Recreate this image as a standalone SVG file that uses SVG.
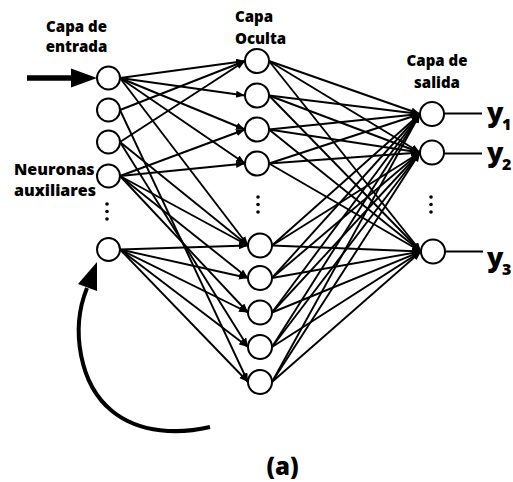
<svg xmlns="http://www.w3.org/2000/svg" width="513" height="482" viewBox="0 0 513 482">
<style>
  .n { fill: #fff; stroke: #000; stroke-width: 2; }
  .e { stroke: #000; stroke-width: 1.9; fill: none; marker-end: url(#ah); }
  .o { stroke: #000; stroke-width: 2; }
  .t { font-family: "Open Sans", "DejaVu Sans", sans-serif; font-weight: 800; fill: #000; }
  .d { fill: #000; }
</style>
<defs>
  <marker id="ah" markerUnits="userSpaceOnUse" markerWidth="10" markerHeight="8" refX="9" refY="3.5" orient="auto">
    <path d="M0,0 L9,3.5 L0,7 z" fill="#000"/>
  </marker>
</defs>
<rect width="513" height="482" fill="#fff"/>

<g id="connectors">
  <!-- input to hidden -->
  <line class="e" x1="120" y1="78" x2="245" y2="61"/>
  <line class="e" x1="120" y1="78" x2="245" y2="95.5"/>
  <line class="e" x1="120" y1="78" x2="245" y2="129.5"/>
  <line class="e" x1="120" y1="78" x2="245" y2="163.5"/>
  <line class="e" x1="120" y1="78" x2="248" y2="245.5"/>
  <line class="e" x1="120" y1="110" x2="245" y2="61"/>
  <line class="e" x1="120" y1="110" x2="248" y2="382"/>
  <line class="e" x1="120" y1="142" x2="245" y2="61"/>
  <line class="e" x1="120" y1="142" x2="248" y2="245.5"/>
  <line class="e" x1="120" y1="142" x2="248" y2="347"/>
  <line class="e" x1="120" y1="176" x2="245" y2="129.5"/>
  <line class="e" x1="120" y1="176" x2="245" y2="163.5"/>
  <line class="e" x1="120" y1="176" x2="248" y2="245.5"/>
  <line class="e" x1="120" y1="176" x2="248" y2="278"/>
  <line class="e" x1="120" y1="176" x2="248" y2="312.5"/>
  <line class="e" x1="120" y1="249.5" x2="248" y2="245.5"/>
  <line class="e" x1="120" y1="249.5" x2="248" y2="278"/>
  <line class="e" x1="120" y1="249.5" x2="248" y2="312.5"/>
  <line class="e" x1="120" y1="249.5" x2="248" y2="347"/>
  <line class="e" x1="120" y1="249.5" x2="248" y2="382"/>
  <!-- hidden to output -->
  <line class="e" x1="269" y1="61" x2="420" y2="114"/>
  <line class="e" x1="269" y1="61" x2="420" y2="152.5"/>
  <line class="e" x1="269" y1="61" x2="421" y2="251.5"/>
  <line class="e" x1="269" y1="95.5" x2="420" y2="114"/>
  <line class="e" x1="269" y1="95.5" x2="420" y2="152.5"/>
  <line class="e" x1="269" y1="95.5" x2="421" y2="251.5"/>
  <line class="e" x1="269" y1="129.5" x2="420" y2="114"/>
  <line class="e" x1="269" y1="129.5" x2="420" y2="152.5"/>
  <line class="e" x1="269" y1="129.5" x2="421" y2="251.5"/>
  <line class="e" x1="269" y1="163.5" x2="420" y2="114"/>
  <line class="e" x1="269" y1="163.5" x2="420" y2="152.5"/>
  <line class="e" x1="269" y1="163.5" x2="421" y2="251.5"/>
  <line class="e" x1="272" y1="245.5" x2="420" y2="114"/>
  <line class="e" x1="272" y1="245.5" x2="420" y2="152.5"/>
  <line class="e" x1="272" y1="245.5" x2="421" y2="251.5"/>
  <line class="e" x1="272" y1="278" x2="420" y2="114"/>
  <line class="e" x1="272" y1="278" x2="420" y2="152.5"/>
  <line class="e" x1="272" y1="278" x2="421" y2="251.5"/>
  <line class="e" x1="272" y1="312.5" x2="420" y2="114"/>
  <line class="e" x1="272" y1="312.5" x2="420" y2="152.5"/>
  <line class="e" x1="272" y1="312.5" x2="421" y2="251.5"/>
  <line class="e" x1="272" y1="347" x2="420" y2="114"/>
  <line class="e" x1="272" y1="347" x2="420" y2="152.5"/>
  <line class="e" x1="272" y1="347" x2="421" y2="251.5"/>
  <line class="e" x1="272" y1="382" x2="420" y2="114"/>
  <line class="e" x1="272" y1="382" x2="420" y2="152.5"/>
  <line class="e" x1="272" y1="382" x2="421" y2="251.5"/>
  <!-- outputs -->
  <line class="o" x1="444" y1="113.5" x2="482" y2="113.5"/>
  <line class="o" x1="444" y1="153.5" x2="482" y2="153.5"/>
  <line class="o" x1="445" y1="251.5" x2="483" y2="251.5"/>
  <!-- input arrow -->
  <line x1="27" y1="78" x2="75" y2="78" stroke="#000" stroke-width="5.5"/>
  <polygon points="97,78 71,68.5 71,87.5" fill="#000"/>
  <!-- recurrent arrow -->
  <path d="M210,427 C180,434 140,434 112,411 C80,385 70,330 87,288" fill="none" stroke="#000" stroke-width="4"/>
  <polygon points="97,262 78,284 97,291" fill="#000"/>
</g>

<g id="input-1"><circle class="n" cx="108.5" cy="78" r="11.5"/></g>
<g id="input-2"><circle class="n" cx="108.5" cy="110" r="11.5"/></g>
<g id="input-3"><circle class="n" cx="108.5" cy="142" r="11.5"/></g>
<g id="input-4"><circle class="n" cx="108.5" cy="176" r="11.5"/></g>
<g id="input-5"><circle class="n" cx="108.5" cy="249.5" r="11.5"/></g>

<g id="hidden-1"><circle class="n" cx="257" cy="61" r="12"/></g>
<g id="hidden-2"><circle class="n" cx="257" cy="95.5" r="12"/></g>
<g id="hidden-3"><circle class="n" cx="257" cy="129.5" r="12"/></g>
<g id="hidden-4"><circle class="n" cx="257" cy="163.5" r="12"/></g>
<g id="hidden-5"><circle class="n" cx="260" cy="245.5" r="12"/></g>
<g id="hidden-6"><circle class="n" cx="260" cy="278" r="12"/></g>
<g id="hidden-7"><circle class="n" cx="260" cy="312.5" r="12"/></g>
<g id="hidden-8"><circle class="n" cx="260" cy="347" r="12"/></g>
<g id="hidden-9"><circle class="n" cx="260" cy="382" r="12"/></g>

<g id="output-1"><circle class="n" cx="432" cy="114" r="12"/></g>
<g id="output-2"><circle class="n" cx="432" cy="152.5" r="12"/></g>
<g id="output-3"><circle class="n" cx="433" cy="251.5" r="12"/></g>

<g id="dots">
  <circle class="d" cx="107" cy="204" r="1.8"/>
  <circle class="d" cx="107" cy="211.5" r="1.8"/>
  <circle class="d" cx="107" cy="219" r="1.8"/>
  <circle class="d" cx="258" cy="197" r="1.8"/>
  <circle class="d" cx="258" cy="204.5" r="1.8"/>
  <circle class="d" cx="258" cy="212" r="1.8"/>
  <circle class="d" cx="431" cy="197" r="1.8"/>
  <circle class="d" cx="431" cy="204.5" r="1.8"/>
  <circle class="d" cx="431" cy="212" r="1.8"/>
</g>

<g id="labels">
  <text class="t" x="76.5" y="32" font-size="15" text-anchor="middle">Capa de</text>
  <text class="t" x="76.5" y="52" font-size="15" text-anchor="middle">entrada</text>
  <text class="t" x="235" y="22" font-size="15">Capa</text>
  <text class="t" x="235" y="44" font-size="15">Oculta</text>
  <text class="t" x="437" y="66" font-size="15" text-anchor="middle">Capa de</text>
  <text class="t" x="437" y="88" font-size="15" text-anchor="middle">salida</text>
  <text class="t" x="14" y="175" font-size="16">Neuronas</text>
  <text class="t" x="14" y="196" font-size="16">auxiliares</text>
  <text class="t" x="487" y="122" font-size="27">y</text>
  <text class="t" x="502" y="130" font-size="16">1</text>
  <text class="t" x="487" y="162" font-size="27">y</text>
  <text class="t" x="502" y="170" font-size="16">2</text>
  <text class="t" x="487" y="267" font-size="27">y</text>
  <text class="t" x="502" y="275" font-size="16">3</text>
  <text class="t" x="282.5" y="475" font-size="24" text-anchor="middle">(a)</text>
</g>
</svg>
